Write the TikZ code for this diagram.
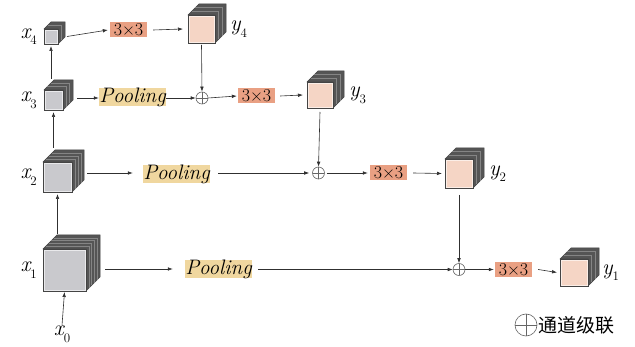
\documentclass[tikz,border=0pt]{standalone}
\usepackage{fontspec}
\newfontfamily\cjkfont{Noto Sans CJK SC}
\usetikzlibrary{arrows.meta,calc}

\definecolor{frontgrey}{HTML}{C9C9CD}
\definecolor{frontpink}{HTML}{F5D5C5}
\definecolor{sidedark}{HTML}{555555}
\definecolor{layerline}{HTML}{858585}
\definecolor{edgegrey}{HTML}{444444}
\definecolor{ringgrey}{HTML}{666666}
\definecolor{convfill}{HTML}{E9A083}
\definecolor{poolfill}{HTML}{F0D79F}
\definecolor{wire}{HTML}{303030}

% stacked feature-map block:
% #1 name, #2 left, #3 top, #4 width, #5 height, #6 depth, #7 inner layer lines, #8 front colour
\newcommand\stackcube[8]{%
  \fill[sidedark, draw=edgegrey, line width=0.5pt]
    (#2,#3) -- ++(#6,-#6) -- ++(#4,0) -- ++(0,#5) -- ++(-#6,#6) -- ++(0,-#5) -- cycle;
  \foreach \i in {1,...,#7}{%
    \pgfmathsetmacro\k{#6*\i/(#7+1)}
    \draw[layerline, line width=0.45pt] (#2+\k,#3-\k) -- ++(#4,0) -- ++(0,#5);
  }
  \node[cubeface, fill=#8, minimum width=#4pt, minimum height=#5pt,
        anchor=north west] (#1) at (#2,#3) {};
  \draw[white, opacity=0.6, line width=0.5pt]
    ([shift={(0.9pt,0.9pt)}]#1.south west) rectangle ([shift={(-0.9pt,-0.9pt)}]#1.north east);
}

% label with an italic letter and a lowered index
\newcommand\sublab[2]{{\itshape #1}\raisebox{-0.3em}{\fontsize{13}{13}\selectfont #2}}

\tikzset{
  cubeface/.style={draw=edgegrey, line width=0.6pt, inner sep=0pt, outer sep=0pt},
  arr/.style={draw=wire, line width=0.6pt, -{Latex[length=5pt,width=3.6pt]}},
  conv/.style={fill=convfill, inner sep=0pt, minimum height=15pt, minimum width=37pt,
               font=\fontsize{18}{18}\selectfont},
  pool/.style={fill=poolfill, inner sep=0pt, minimum height=18pt, minimum width=67pt,
               font=\fontsize{21}{21}\selectfont\itshape},
  plus/.style={circle, draw=ringgrey, line width=0.6pt, minimum size=12pt, inner sep=0pt,
               path picture={\draw[ringgrey, line width=0.6pt]
                 (path picture bounding box.north) -- (path picture bounding box.south)
                 (path picture bounding box.west) -- (path picture bounding box.east);}},
  lab/.style={font=\fontsize{22}{22}\selectfont, inner sep=0pt}
}

\begin{document}
\begin{tikzpicture}[x=1pt, y=-1pt]
  \useasboundingbox[fill=white] (0,0) rectangle (635,347);

  % input-side blocks
  \stackcube{x4}{44}{29}{14}{15}{7}{1}{frontgrey}
  \stackcube{x3}{44}{90}{19}{20}{10}{2}{frontgrey}
  \stackcube{x2}{43}{162}{29}{30}{12}{3}{frontgrey}
  \stackcube{x1}{43}{249}{43}{42}{14}{4}{frontgrey}

  % output-side blocks
  \stackcube{y4}{188}{15}{27}{28}{11}{2}{frontpink}
  \stackcube{y3}{307}{82}{26}{26}{11}{2}{frontpink}
  \stackcube{y2}{445}{159}{28}{29}{11}{2}{frontpink}
  \stackcube{y1}{560}{259}{28}{27}{11}{2}{frontpink}

  % labels
  \node[lab, anchor=east] (lx4) at ([xshift=-7pt]x4.west) {\sublab{x}{4}};
  \node[lab, anchor=east] (lx3) at ([xshift=-7pt]x3.west) {\sublab{x}{3}};
  \node[lab, anchor=east] (lx2) at ([xshift=-6pt]x2.west) {\sublab{x}{2}};
  \node[lab, anchor=east] (lx1) at ([xshift=-6pt]x1.west) {\sublab{x}{1}};
  \node[lab] (x0) at (62,334) {\sublab{x}{0}};
  \node[lab, anchor=west] (ly4) at ([xshift=15pt]y4.east) {\sublab{y}{4}};
  \node[lab, anchor=west] (ly3) at ([xshift=16pt]y3.east) {\sublab{y}{3}};
  \node[lab, anchor=west] (ly2) at ([xshift=16pt]y2.east) {\sublab{y}{2}};
  \node[lab, anchor=west] (ly1) at ([xshift=14pt]y1.east) {\sublab{y}{1}};

  % operators
  \node[conv] (c4) at (128.5,30) {3×3};
  \node[conv] (c3) at (256.5,96) {3×3};
  \node[conv] (c2) at (388.5,173) {3×3};
  \node[conv] (c1) at (513.5,269.5) {3×3};
  \node[pool] (p3) at (132.5,97) {Pooling};
  \node[pool] (p2) at (176.5,174) {Pooling};
  \node[pool] (p1) at (218.5,269) {Pooling};
  \node[plus] (s3) at (202,98) {};
  \node[plus] (s2) at (318.5,173) {};
  \node[plus] (s1) at (459,269.5) {};

  % bottom-up path
  \draw[arr] (x0.north) -- ([yshift=-1pt]x1.south);
  \draw[arr] ([yshift=15pt]x1.north -| x2.south) -- ([yshift=-2pt]x2.south);
  \draw[arr] ([yshift=14pt]x2.north -| x3.south) -- ([yshift=-2pt]x3.south);
  \draw[arr] ([yshift=11pt]x3.north -| x4.south) -- ([yshift=-2pt]x4.south);

  % top row
  \draw[arr] ([xshift=9pt]x4.east) -- ([xshift=-2pt]c4.west);
  \draw[arr] ([xshift=6pt]c4.east) -- ([xshift=-5pt]y4.west);
  \draw[arr] ([yshift=-2pt]y4.south) -- (s3.north);

  % second row
  \draw[arr] ([xshift=14pt]x3.east |- s3) -- (p3.west |- s3);
  \draw[arr] (p3.east |- s3) -- (s3.west);
  \draw[arr] (s3.east) -- ([xshift=-1pt]c3.west);
  \draw[arr] ([xshift=5pt]c3.east) -- ([xshift=-4pt]y3.west);
  \draw[arr] ([yshift=-4pt]y3.south) -- (s2.north);

  % third row
  \draw[arr] ([xshift=15pt]x2.east |- s2) -- ([xshift=-10pt]p2.west |- s2);
  \draw[arr] ([xshift=8pt]p2.east |- s2) -- ([xshift=-3pt]s2.west);
  \draw[arr] ([xshift=2pt]s2.east) -- ([xshift=-2pt]c2.west);
  \draw[arr] ([xshift=6pt]c2.east) -- ([xshift=-3pt]y2.west);
  \draw[arr] ([yshift=-7pt]y2.south) -- (s1.north);

  % bottom row
  \draw[arr] ([xshift=19pt]x1.east |- p1) -- ([xshift=-12pt]p1.west);
  \draw[arr] ([xshift=6pt]p1.east |- s1) -- (s1.west);
  \draw[arr] (s1.east) -- ([xshift=-1pt]c1.west);
  \draw[arr] ([xshift=6pt]c1.east) -- ([xshift=-3pt]y1.west);

  % legend
  \node[plus, minimum size=22pt] (legend) at (526,325) {};
  \node[anchor=west, inner sep=0pt, font=\cjkfont\fontsize{19}{19}\selectfont]
    (legendtext) at ([xshift=1pt]legend.east) {通道级联};
\end{tikzpicture}
\end{document}
